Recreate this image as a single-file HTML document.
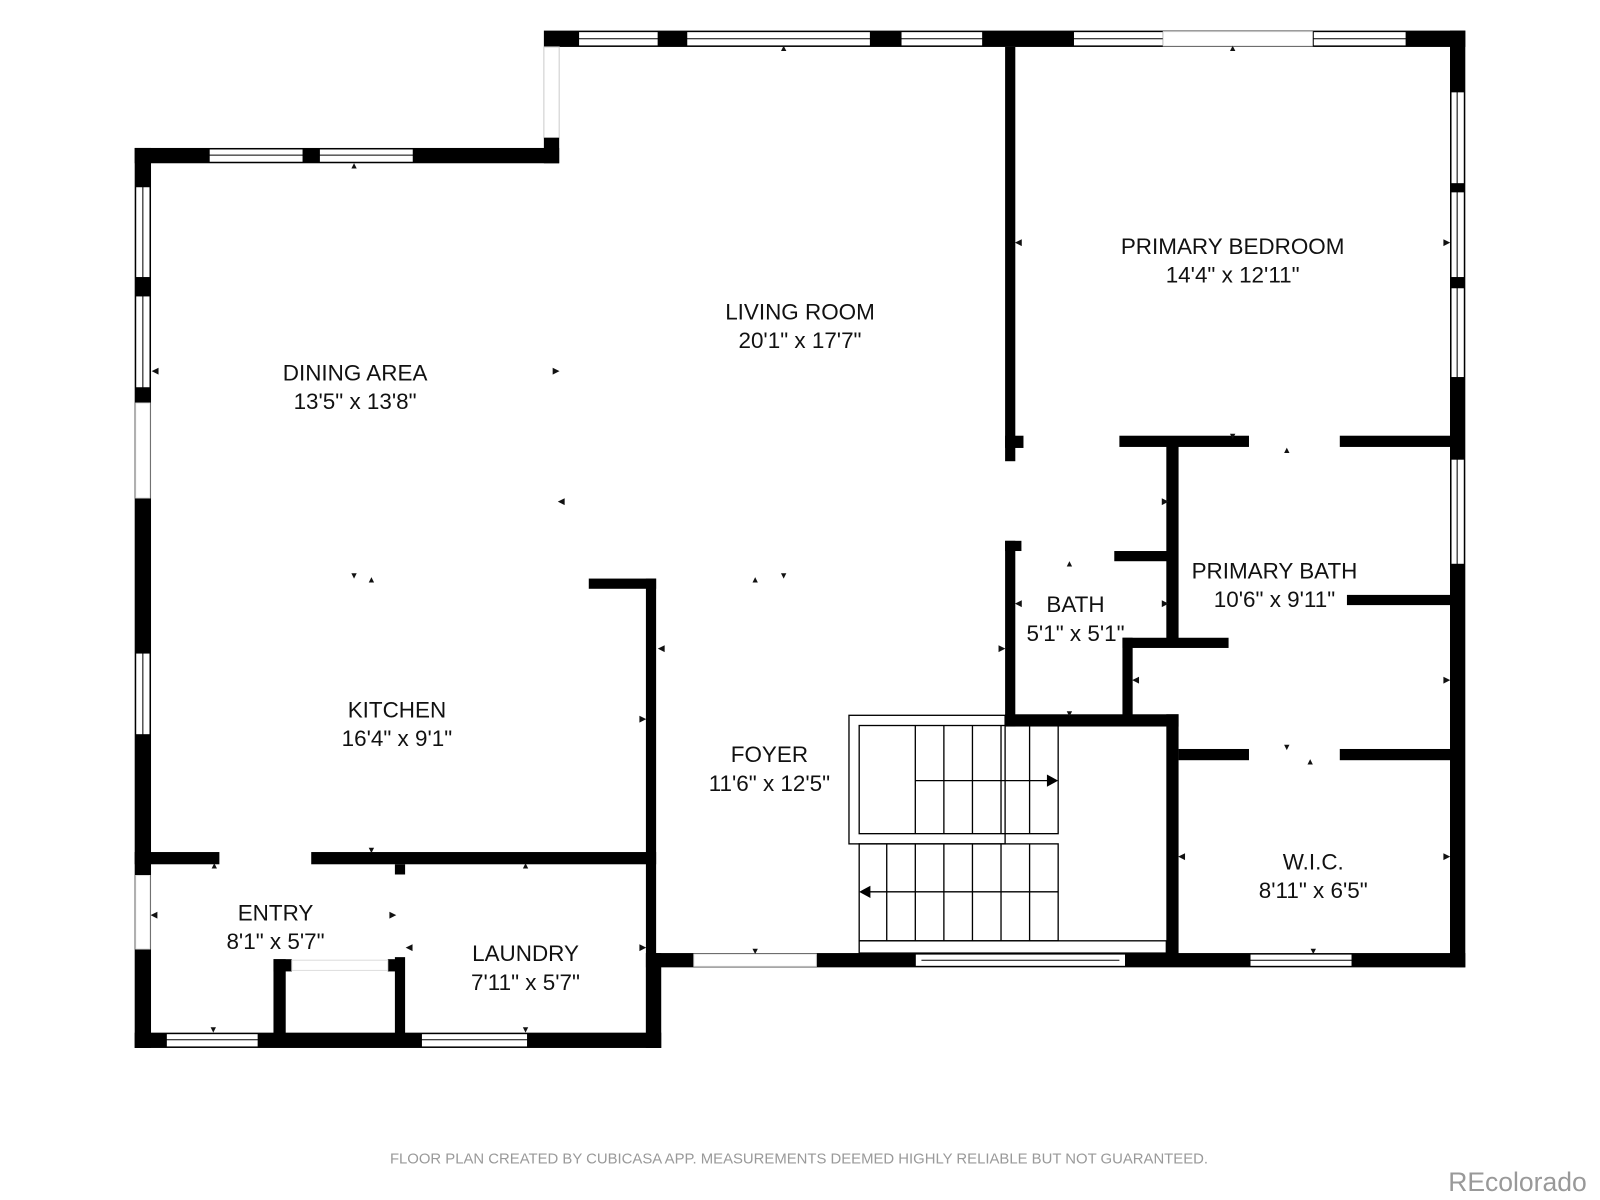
<!DOCTYPE html>
<html><head><meta charset="utf-8"><style>
html,body{margin:0;padding:0;background:#fff;width:1600px;height:1200px;overflow:hidden}
svg{display:block}
text{font-family:"Liberation Sans",sans-serif;fill:#111}
.w{fill:#000}
.win{fill:#fff;stroke:#000;stroke-width:1}
.st{fill:none;stroke:#000;stroke-width:1.3}
.lab{font-size:22px;text-anchor:middle}
.tk{font-size:9px;text-anchor:middle;fill:#000}
</style></head><body>
<svg width="1600" height="1200" viewBox="0 0 1568 1176" xmlns="http://www.w3.org/2000/svg">
<rect class="w" x="533" y="30" width="903" height="16"/>
<rect class="win" x="567" y="31" width="78" height="14"/><line x1="567" y1="38" x2="645" y2="38" stroke="#000"/>
<rect class="win" x="673" y="31" width="180" height="14"/><line x1="673" y1="38" x2="853" y2="38" stroke="#000"/>
<rect class="win" x="883" y="31" width="80" height="14"/><line x1="883" y1="38" x2="963" y2="38" stroke="#000"/>
<rect class="win" x="1052" y="31" width="88" height="14"/><line x1="1052" y1="38" x2="1140" y2="38" stroke="#000"/>
<rect x="1140" y="31" width="147" height="14" fill="#fff" stroke="#ddd"/>
<rect class="win" x="1287" y="31" width="91" height="14"/><line x1="1287" y1="38" x2="1378" y2="38" stroke="#000"/>
<rect x="533" y="46" width="15" height="89" fill="#fff" stroke="#ccc"/>
<rect class="w" x="533" y="135" width="15" height="25"/>
<rect class="w" x="132" y="145" width="416" height="15"/>
<rect class="win" x="205" y="146" width="92" height="13"/><line x1="205" y1="152" x2="297" y2="152" stroke="#000"/>
<rect class="win" x="313" y="146" width="92" height="13"/><line x1="313" y1="152" x2="405" y2="152" stroke="#000"/>
<rect class="w" x="132" y="145" width="16" height="882"/>
<rect class="win" x="133" y="183" width="14" height="89"/><line x1="140" y1="183" x2="140" y2="272" stroke="#000"/>
<rect class="win" x="133" y="290" width="14" height="90"/><line x1="140" y1="290" x2="140" y2="380" stroke="#000"/>
<rect x="133" y="395" width="14" height="93" fill="#fff" stroke="#ddd"/>
<rect class="win" x="133" y="640" width="14" height="80"/><line x1="140" y1="640" x2="140" y2="720" stroke="#000"/>
<rect x="133" y="858" width="14" height="72" fill="#fff" stroke="#ddd"/>
<rect class="w" x="132" y="1012" width="516" height="15"/>
<rect class="win" x="163" y="1013" width="90" height="13"/><line x1="163" y1="1019" x2="253" y2="1019" stroke="#000"/>
<rect class="win" x="413" y="1013" width="104" height="13"/><line x1="413" y1="1019" x2="517" y2="1019" stroke="#000"/>
<rect class="w" x="577" y="567" width="66" height="10"/>
<rect class="w" x="633" y="567" width="10" height="460"/>
<rect class="w" x="633" y="934" width="15" height="93"/>
<rect class="w" x="132" y="835" width="83" height="12"/>
<rect class="w" x="305" y="835" width="338" height="12"/>
<rect class="w" x="387" y="847" width="10" height="10"/>
<rect class="w" x="387" y="938" width="10" height="80"/>
<rect class="w" x="268" y="940" width="12" height="80"/>
<rect class="w" x="268" y="940" width="18" height="12"/>
<rect class="w" x="380" y="940" width="10" height="12"/>
<rect x="286" y="941" width="94" height="10" fill="#fff" stroke="#ddd"/>
<rect class="w" x="633" y="934" width="803" height="14"/>
<rect x="680" y="935" width="120" height="12" fill="#fff" stroke="#ddd"/>
<rect class="win" x="897" y="935" width="206" height="12"/><line x1="903" y1="941" x2="1097" y2="941" stroke="#000"/>
<rect class="win" x="1225" y="935" width="100" height="12"/><line x1="1225" y1="941" x2="1325" y2="941" stroke="#000"/>
<rect class="w" x="1421" y="30" width="15" height="918"/>
<rect class="win" x="1422" y="90" width="13" height="90"/><line x1="1428" y1="90" x2="1428" y2="180" stroke="#000"/>
<rect class="win" x="1422" y="188" width="13" height="84"/><line x1="1428" y1="188" x2="1428" y2="272" stroke="#000"/>
<rect class="win" x="1422" y="282" width="13" height="88"/><line x1="1428" y1="282" x2="1428" y2="370" stroke="#000"/>
<rect class="win" x="1422" y="450" width="13" height="103"/><line x1="1428" y1="450" x2="1428" y2="553" stroke="#000"/>
<rect class="w" x="985" y="46" width="10" height="406"/>
<rect class="w" x="985" y="427" width="18" height="12"/>
<rect class="w" x="1097" y="427" width="127" height="11"/>
<rect class="w" x="1313" y="427" width="108" height="11"/>
<rect class="w" x="1143" y="432" width="12" height="198"/>
<rect class="w" x="1092" y="540" width="56" height="10"/>
<rect class="w" x="985" y="530" width="10" height="182"/>
<rect class="w" x="985" y="530" width="16" height="10"/>
<rect class="w" x="985" y="700" width="170" height="12"/>
<rect class="w" x="1100" y="625" width="10" height="82"/>
<rect class="w" x="1100" y="625" width="104" height="10"/>
<rect class="w" x="1320" y="583" width="101" height="10"/>
<rect class="w" x="1143" y="700" width="12" height="240"/>
<rect class="w" x="1155" y="734" width="69" height="11"/>
<rect class="w" x="1313" y="734" width="108" height="11"/>
<rect class="st" x="832" y="701" width="153" height="126"/>
<rect class="st" x="842" y="711" width="195" height="106"/>
<g class="st">
<line x1="897" y1="711" x2="897" y2="817"/><line x1="925" y1="711" x2="925" y2="817"/><line x1="953" y1="711" x2="953" y2="817"/><line x1="981" y1="711" x2="981" y2="817"/><line x1="1009" y1="711" x2="1009" y2="817"/>
<line x1="897" y1="765" x2="1030" y2="765"/>
<rect x="842" y="827" width="195" height="95"/>
<line x1="869" y1="827" x2="869" y2="922"/><line x1="897" y1="827" x2="897" y2="922"/><line x1="925" y1="827" x2="925" y2="922"/><line x1="953" y1="827" x2="953" y2="922"/><line x1="981" y1="827" x2="981" y2="922"/><line x1="1009" y1="827" x2="1009" y2="922"/>
<line x1="850" y1="874" x2="1037" y2="874"/>
<rect x="842" y="922" width="301" height="12"/>
</g>
<polygon points="1037,765 1026,759 1026,771" fill="#000"/>
<polygon points="842,874 853,868 853,880" fill="#000"/>
<text class="lab" x="348" y="373">DINING AREA</text><text class="lab" x="348" y="401">13'5" x 13'8"</text>
<text class="lab" x="784" y="313">LIVING ROOM</text><text class="lab" x="784" y="341">20'1" x 17'7"</text>
<text class="lab" x="1208" y="249">PRIMARY BEDROOM</text><text class="lab" x="1208" y="277">14'4" x 12'11"</text>
<text class="lab" x="1249" y="567">PRIMARY BATH</text><text class="lab" x="1249" y="595">10'6" x 9'11"</text>
<text class="lab" x="1054" y="600">BATH</text><text class="lab" x="1054" y="628">5'1" x 5'1"</text>
<text class="lab" x="389" y="703">KITCHEN</text><text class="lab" x="389" y="731">16'4" x 9'1"</text>
<text class="lab" x="754" y="747">FOYER</text><text class="lab" x="754" y="775">11'6" x 12'5"</text>
<text class="lab" x="1287" y="852">W.I.C.</text><text class="lab" x="1287" y="880">8'11" x 6'5"</text>
<text class="lab" x="270" y="902">ENTRY</text><text class="lab" x="270" y="930">8'1" x 5'7"</text>
<text class="lab" x="515" y="942">LAUNDRY</text><text class="lab" x="515" y="970">7'11" x 5'7"</text>
<g class="tk">
<text x="768" y="50">▲</text><text x="347" y="165">▲</text><text x="1208" y="50">▲</text>
<text x="152" y="366">◀</text><text x="545" y="366">▶</text><text x="550" y="494">◀</text>
<text x="347" y="567">▼</text><text x="364" y="571">▲</text><text x="740" y="571">▲</text><text x="768" y="567">▼</text>
<text x="998" y="240">◀</text><text x="1418" y="240">▶</text><text x="1208" y="430">▼</text><text x="1261" y="444">▲</text>
<text x="1142" y="494">▶</text><text x="1048" y="555">▲</text><text x="998" y="594">◀</text><text x="1142" y="594">▶</text>
<text x="982" y="638">▶</text><text x="1113" y="669">◀</text><text x="1418" y="669">▶</text><text x="1048" y="702">▼</text>
<text x="1261" y="735">▼</text><text x="1284" y="749">▲</text><text x="1158" y="842">◀</text><text x="1418" y="842">▶</text>
<text x="1287" y="935">▼</text><text x="740" y="935">▼</text><text x="648" y="638">◀</text><text x="630" y="707">▶</text>
<text x="364" y="836">▼</text><text x="210" y="851">▲</text><text x="515" y="851">▲</text>
<text x="151" y="899">◀</text><text x="385" y="899">▶</text><text x="401" y="931">◀</text><text x="630" y="931">▶</text>
<text x="209" y="1012">▼</text><text x="515" y="1012">▼</text>
</g>
<text x="783" y="1140" style="font-size:14.6px;fill:#999;text-anchor:middle">FLOOR PLAN CREATED BY CUBICASA APP. MEASUREMENTS DEEMED HIGHLY RELIABLE BUT NOT GUARANTEED.</text>
<text x="1555" y="1167" style="font-size:26px;fill:#999;text-anchor:end">REcolorado</text>
</svg>
</body></html>
